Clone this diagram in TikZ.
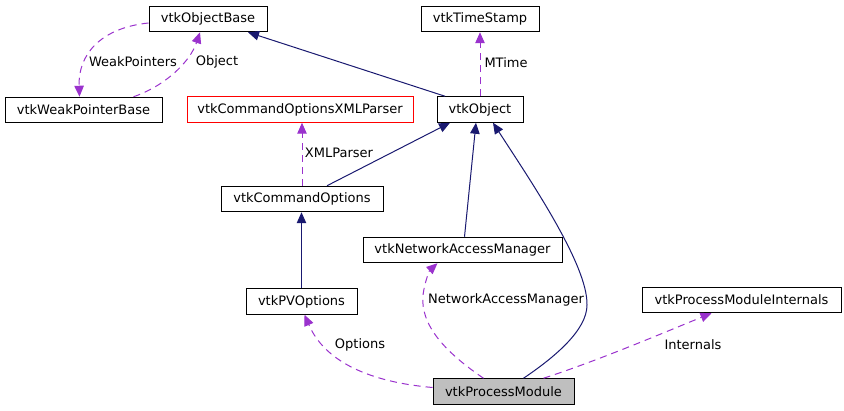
\documentclass[tikz,border=0pt]{standalone}
\usepackage{fontspec}
\setmainfont{DejaVu Sans}
\usetikzlibrary{arrows.meta,calc}
\definecolor{inh}{HTML}{191970}
\definecolor{usg}{HTML}{9A32CD}
\definecolor{cur}{HTML}{BFBFBF}
\begin{document}
\begin{tikzpicture}[x=1pt,y=-1pt,
  cls/.style={draw=black,line width=1pt,inner sep=0pt,minimum height=25.5pt,font=\fontsize{13}{15}\selectfont},
  inherit/.style={draw=inh,line width=1pt,-{Triangle[length=11pt,width=9.5pt]},fill=none},
  uses/.style={draw=usg,line width=1pt,dash pattern=on 7pt off 5pt,-{Triangle[length=11pt,width=9.5pt]}},
  lbl/.style={font=\fontsize{13}{15}\selectfont,inner sep=0pt,text=black}]
\useasboundingbox (0,0) rectangle (844,411);
\node[cls,minimum width=118pt] (ob) at (208,19) {vtkObjectBase};
\node[cls,minimum width=118pt] (ts) at (480,19) {vtkTimeStamp};
\node[cls,minimum width=157pt] (wpb) at (83.5,110) {vtkWeakPointerBase};
\node[cls,draw=red,minimum width=226pt] (xml) at (300,109.5) {vtkCommandOptionsXMLParser};
\node[cls,minimum width=86pt] (obj) at (480,109.5) {vtkObject};
\node[cls,minimum width=162pt] (co) at (302,199) {vtkCommandOptions};
\node[cls,minimum width=199pt] (nam) at (462.5,250) {vtkNetworkAccessManager};
\node[cls,minimum width=111pt] (pvo) at (301.5,301.5) {vtkPVOptions};
\node[cls,minimum width=199pt] (pmi) at (741.5,300) {vtkProcessModuleInternals};
\node[cls,fill=cur,minimum width=141pt] (pm) at (503.5,391.5) {vtkProcessModule};
% inheritance
\draw[inherit] ($(obj.north)+(-35,0)$) -- ($(ob.south)+(40,0)$);
\draw[inherit] ($(co.north)+(25,0)$) -- ($(obj.south)+(-30,0)$);
\draw[inherit] ($(nam.north)+(2,0)$) -- ($(obj.south)+(-4,0)$);
\draw[inherit] (pvo.north) -- (pvo.north |- co.south);
\draw[inherit] ($(pm.north)+(20,0)$) .. controls (555,357) and (587,330) .. (587,305)
  .. controls (588,265) and (530,180) .. ($(obj.south)+(13,0)$);
% usage
\draw[uses] (obj.north) -- (ts.south) node[lbl,pos=0.5,anchor=west,xshift=4pt,yshift=2pt] {MTime};
\draw[uses] ($(ob.west)+(0,4)$) .. controls (100,28) and (78,55) .. ($(wpb.north)+(-4,0)$);
\node[lbl] (lwp) at (133,62) {WeakPointers};
\draw[uses] ($(wpb.north)+(50,0)$) .. controls (165,86) and (190,62) .. ($(ob.south)+(-8,0)$);
\node[lbl] (lob) at (217,62) {Object};
\draw[uses] (co.north) -- (co.north |- xml.south);
\node[lbl] (lxml) at (339,153) {XMLParser};
\draw[uses] ($(pm.west)+(0,-4)$) .. controls (370,382) and (325,362) .. ($(pvo.south)+(3,0)$);
\node[lbl] (lopt) at (360,345) {Options};
\draw[uses] ($(pm.north)+(-20,0)$) .. controls (445,352) and (420,325) .. (423,295)
  .. controls (425,280) and (430,270) .. ($(nam.south)+(-25,0)$);
\node[lbl] (lnam) at (506,300) {NetworkAccessManager};
\draw[uses] ($(pm.north)+(40,0)$) .. controls (600,360) and (670,330) .. ($(pmi.south)+(-30,0)$);
\node[lbl] (lint) at (693,345) {Internals};
\end{tikzpicture}
\end{document}
